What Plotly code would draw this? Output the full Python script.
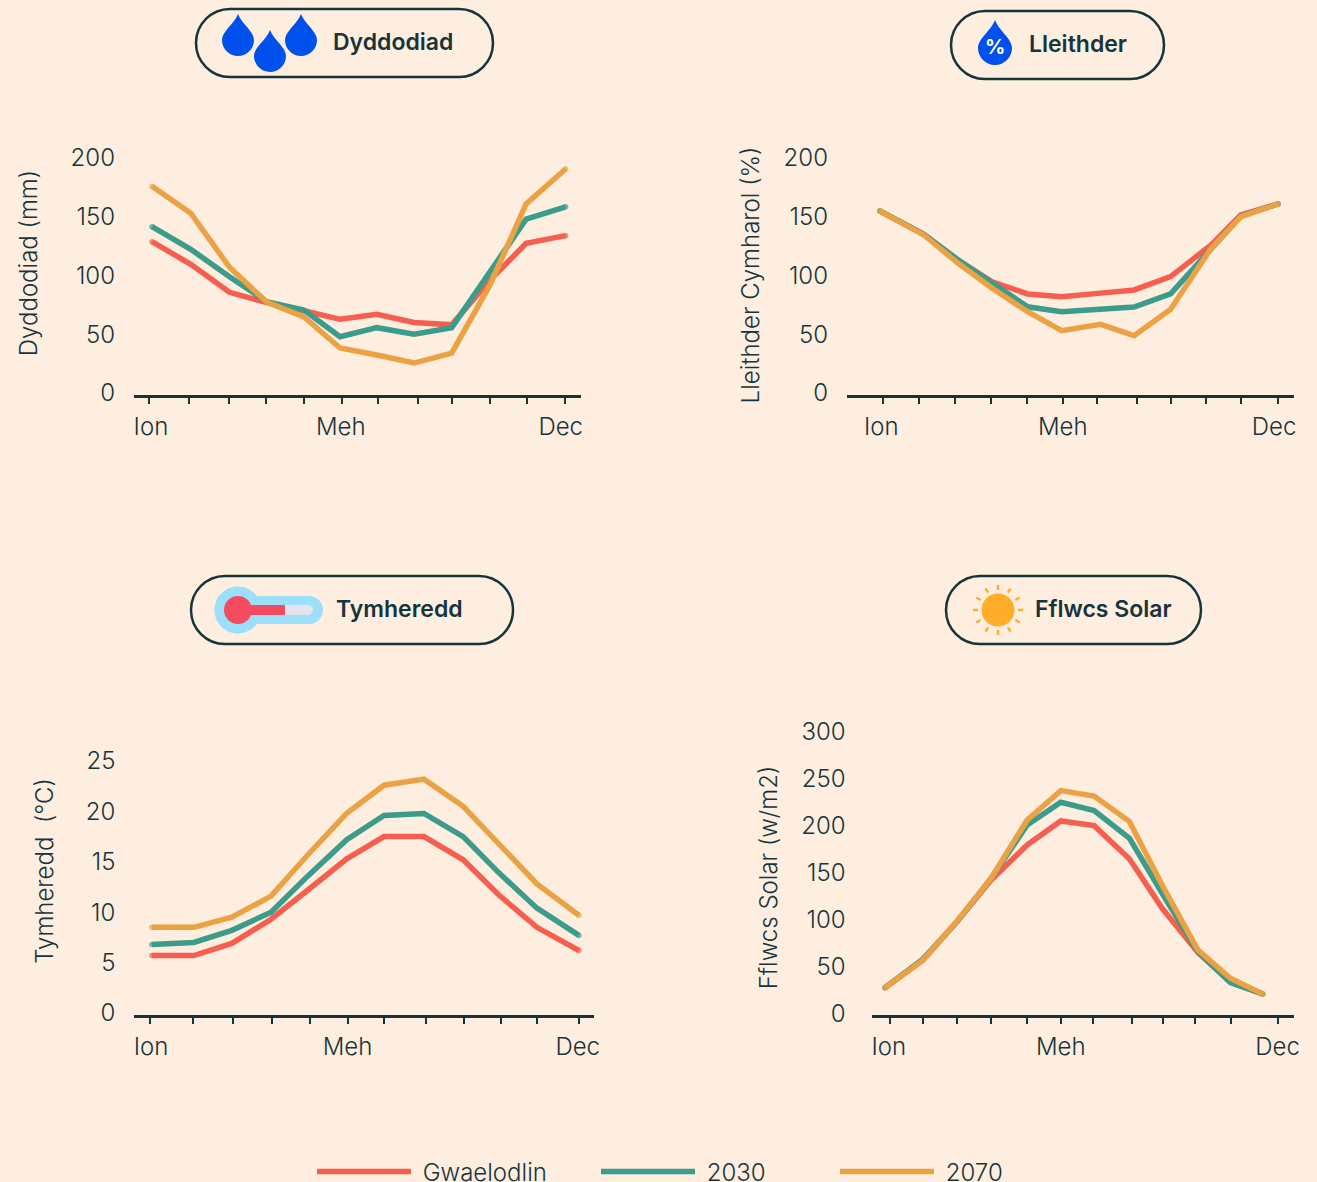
import math
import plotly.graph_objects as go

W, H = 1317, 1182
BG = "#FDEEE0"
INK = "#17343A"
RED, GREEN, ORANGE = "#F65F4F", "#3B9C8C", "#EBA244"
BLUE = "#0050EE"
FONT = "Inter"
TICK_SIZE = 24

SERIES = ["Gwaelodlin", "2030", "2070"]
COLORS = [RED, GREEN, ORANGE]
MONTH_LABELS = ["Ion", "Meh", "Dec"]

# Rainfall (Dyddodiad)
rain_months = [1, 2.03, 3.06, 4.05, 5.04, 6.0, 6.98, 7.97, 8.97, 9.99, 10.95, 12]
rain_ticks = [0.92, 1.98, 3.05, 4.03, 5.04, 6.05, 7.01, 8.07, 8.98, 9.99, 10.97, 11.98]
rain_labels_at = [0.97, 6.02, 11.87]
rain_base = [128.8, 109.5, 85.7, 76.9, 70, 62.7, 67, 60, 58, 96, 127.4, 133.9]
rain_2030 = [141.5, 122.3, 99, 77.7, 70.6, 47.9, 55.6, 50, 55.6, 103, 148, 158.5]
rain_2070 = [176, 153, 107, 77.4, 64.7, 38.3, 32.3, 25.5, 34, 92, 161, 190.6]

# Humidity (Lleithder)
hum_months = [1, 2.21, 3.16, 4.10, 5.08, 6.02, 7.10, 8.02, 9.03, 10.15, 10.97, 12]
hum_ticks = [1.08, 2.08, 3.07, 4.07, 5.06, 6.06, 7.0, 8.1, 9.03, 10.01, 10.97, 12.0]
hum_labels_at = [1.04, 6.05, 11.89]
hum_base = [154.9, 135, 113.2, 94.7, 84.3, 82, 85, 87.7, 99, 126, 151.5, 160.9]
hum_2030 = [154.9, 135, 113.2, 93.4, 73.4, 69.2, 70.9, 73.2, 84.3, 121.7, 150.6, 160.9]
hum_2070 = [154.9, 134.5, 110.4, 89.1, 69.2, 53, 58.4, 48.8, 71.2, 123.1, 150, 160.9]

# Temperature (Tymheredd)
temp_months = [1, 2.08, 3.06, 4.07, 5.02, 6.02, 6.98, 8.01, 9.02, 9.94, 10.92, 12]
temp_ticks = [0.94, 2.06, 3.09, 4.10, 5.08, 6.05, 6.99, 8.05, 9.03, 10.0, 10.93, 12.0]
temp_labels_at = [0.98, 6.04, 11.97]
temp_base = [5.7, 5.7, 6.9, 9.3, 12.2, 15.3, 17.5, 17.5, 15.2, 11.7, 8.5, 6.2]
temp_2030 = [6.8, 7, 8.2, 10, 13.6, 17.2, 19.6, 19.8, 17.5, 13.9, 10.4, 7.7]
temp_2070 = [8.5, 8.5, 9.5, 11.6, 15.7, 19.8, 22.6, 23.2, 20.5, 16.7, 12.8, 9.7]

# Solar flux (Fflwcs Solar)
sol_months = [1, 2.11, 3.10, 4.09, 5.14, 6.12, 7.09, 8.12, 9.07, 10.11, 11.06, 12]
sol_ticks = [1.16, 2.11, 3.10, 4.09, 5.14, 6.13, 7.06, 8.2, 9.10, 10.03, 11.08, 12.44]
sol_labels_at = [1.11, 6.12, 12.43]
sol_base = [27.3, 56.8, 97.7, 142, 179.3, 204.9, 199.9, 164.4, 111.9, 65, 33, 20.6]
sol_2030 = [27.3, 57.9, 97.7, 143.8, 200.6, 224.8, 215.9, 186.4, 127.8, 65.7, 32.7, 20.6]
sol_2070 = [27.3, 56.8, 98.4, 143.8, 206, 237.2, 231.5, 204.2, 136.7, 67.5, 37.3, 20.6]

panels = [
    dict(months=rain_months, ticks=rain_ticks, labels_at=rain_labels_at,
         values=[rain_base, rain_2030, rain_2070], title="Dyddodiad (mm)",
         yticks=[0, 50, 100, 150, 200], left=134, right=581, top=130, bottom=396, axis=395.5,
         xr=[0.52, 12.41], y0=393, py=1.175, labelgap=18, tstand=26),
    dict(months=hum_months, ticks=hum_ticks, labels_at=hum_labels_at,
         values=[hum_base, hum_2030, hum_2070], title="Lleithder Cymharol (%)",
         yticks=[0, 50, 100, 150, 200], left=847, right=1294, top=154, bottom=396, axis=395.5,
         xr=[0.09, 12.44], y0=393, py=1.175, labelgap=18, tstand=17),
    dict(months=temp_months, ticks=temp_ticks, labels_at=temp_labels_at,
         values=[temp_base, temp_2030, temp_2070], title="Tymheredd  (°C)",
         yticks=[0, 5, 10, 15, 20, 25], left=134.4, right=594, top=726, bottom=1016, axis=1015.5,
         xr=[0.55, 12.39], y0=1013, py=10.08, labelgap=18, tstand=25),
    dict(months=sol_months, ticks=sol_ticks, labels_at=sol_labels_at,
         values=[sol_base, sol_2030, sol_2070], title="Fflwcs Solar (w/m2)",
         yticks=[0, 50, 100, 150, 200, 250, 300], left=871.6, right=1294, top=725, bottom=1030, axis=1015.5,
         xr=[0.61, 12.91], y0=1013.3, py=0.9387, labelgap=25, tstand=16),
]


def X(px):
    return px / W


def Y(py):
    return 1 - py / H


def P(px, py):
    return f"{X(px):.5f},{Y(py):.5f}"


def pill_path(x0, y0, x1, y1):
    r = (y1 - y0) / 2
    k = r * 0.5523
    return (f"M{P(x0 + r, y0)} L{P(x1 - r, y0)} "
            f"C{P(x1 - r + k, y0)} {P(x1, y0 + r - k)} {P(x1, y0 + r)} "
            f"C{P(x1, y0 + r + k)} {P(x1 - r + k, y1)} {P(x1 - r, y1)} "
            f"L{P(x0 + r, y1)} "
            f"C{P(x0 + r - k, y1)} {P(x0, y0 + r + k)} {P(x0, y0 + r)} "
            f"C{P(x0, y0 + r - k)} {P(x0 + r - k, y0)} {P(x0 + r, y0)} Z")


def drop_path(cx, top, bottom, r):
    cy = bottom - r
    k = r * 0.5523
    return (f"M{P(cx, top)} "
            f"C{P(cx + r * 0.25, top + (cy - top) * 0.4)} {P(cx + r, cy - r * 0.55)} {P(cx + r, cy)} "
            f"C{P(cx + r, cy + k)} {P(cx + k, bottom)} {P(cx, bottom)} "
            f"C{P(cx - k, bottom)} {P(cx - r, cy + k)} {P(cx - r, cy)} "
            f"C{P(cx - r, cy - r * 0.55)} {P(cx - r * 0.25, top + (cy - top) * 0.4)} {P(cx, top)} Z")


def ellipse_path(cx, cy, r):
    k = r * 0.5523
    return (f"M{P(cx + r, cy)} "
            f"C{P(cx + r, cy + k)} {P(cx + k, cy + r)} {P(cx, cy + r)} "
            f"C{P(cx - k, cy + r)} {P(cx - r, cy + k)} {P(cx - r, cy)} "
            f"C{P(cx - r, cy - k)} {P(cx - k, cy - r)} {P(cx, cy - r)} "
            f"C{P(cx + k, cy - r)} {P(cx + r, cy - k)} {P(cx + r, cy)} Z")


fig = go.Figure()
layout = {}

for i, p in enumerate(panels):
    n = "" if i == 0 else str(i + 1)
    xname, yname = f"xaxis{n}", f"yaxis{n}"
    xref, yref = f"x{n}", f"y{n}"
    for j, (name, color, vals) in enumerate(zip(SERIES, COLORS, p["values"])):
        ends = [5.5] + [0] * (len(vals) - 2) + [5.5]
        fig.add_trace(go.Scatter(
            x=p["months"], y=vals, name="\u00a0" + name, mode="lines+markers",
            line=dict(color=color, width=5.5),
            marker=dict(color=color, size=ends, line=dict(width=0)),
            xaxis=xref, yaxis=yref,
            legend="legend" if j == 0 else f"legend{j + 1}",
            showlegend=(i == 0), hoverinfo="skip",
        ))
    layout[xname] = dict(
        domain=[X(p["left"]), X(p["right"])], range=p["xr"],
        anchor="free", position=Y(p["axis"]), automargin=False,
        showgrid=False, zeroline=False, showline=True, linecolor=INK, linewidth=2.5,
        tickmode="array", tickvals=p["labels_at"], ticktext=MONTH_LABELS,
        ticks="", ticklabelstandoff=9,
        tickfont=dict(family=FONT, size=TICK_SIZE, color=INK, weight=300),
        minor=dict(tickmode="array", tickvals=p["ticks"], ticks="outside",
                   ticklen=7, tickwidth=2, tickcolor=INK, showgrid=False),
    )
    low = (p["y0"] - p["bottom"]) / p["py"]
    high = (p["y0"] - p["top"]) / p["py"]
    layout[yname] = dict(
        domain=[Y(p["bottom"]), Y(p["top"])], range=[low, high], anchor=xref, automargin=False,
        showgrid=False, zeroline=False, showline=False, ticks="",
        tickmode="array", tickvals=p["yticks"], ticklabelstandoff=p["labelgap"],
        tickfont=dict(family=FONT, size=TICK_SIZE, color=INK, weight=300),
        title=dict(text=p["title"], standoff=p["tstand"],
                   font=dict(family=FONT, size=TICK_SIZE, color=INK, weight=300)),
    )

shapes = []
annotations = []


def pill(x0, y0, x1, y1, label, lx):
    shapes.append(dict(type="path", xref="paper", yref="paper", path=pill_path(x0, y0, x1, y1),
                       line=dict(color=INK, width=2.5), fillcolor="rgba(0,0,0,0)"))
    annotations.append(dict(text=label, x=X(lx), y=Y((y0 + y1) / 2 - 1), xref="paper", yref="paper",
                            xanchor="left", yanchor="middle", showarrow=False, borderpad=0,
                            font=dict(family=FONT, size=23, color=INK, weight=600)))


def fill(path, color):
    shapes.append(dict(type="path", xref="paper", yref="paper", path=path,
                       fillcolor=color, line=dict(width=0)))


pill(196, 9, 493, 77, "Dyddodiad", 332)
pill(951, 11, 1164, 79, "Lleithder", 1028)
pill(191, 576, 513, 644, "Tymheredd", 335)
pill(946, 576, 1201, 644, "Fflwcs Solar", 1034)

# Drops
fill(drop_path(238, 14, 56, 16), BLUE)
fill(drop_path(270, 30, 72, 16), BLUE)
fill(drop_path(301, 14, 56, 16), BLUE)
fill(drop_path(995, 20, 65, 17), BLUE)
annotations.append(dict(text="%", x=X(995), y=Y(47), xref="paper", yref="paper", showarrow=False,
                        xanchor="center", yanchor="middle",
                        font=dict(family=FONT, size=20, color="#FFFFFF", weight=700)))

# Thermometer
fill(pill_path(238, 596, 323, 624), "#9BDFFB")
fill(ellipse_path(238, 610, 23.5), "#9BDFFB")
fill(pill_path(270, 605, 313, 615), "#E5E3EC")
shapes.append(dict(type="rect", xref="paper", yref="paper", x0=X(240), x1=X(285), y0=Y(615), y1=Y(605),
                   fillcolor="#F44B5F", line=dict(width=0)))
fill(ellipse_path(238, 610, 14), "#F44B5F")

# Sun
fill(ellipse_path(998, 610, 16.5), "#FFAE2A")
for k in range(12):
    a = math.radians(30 * k)
    shapes.append(dict(type="line", xref="paper", yref="paper",
                       x0=X(998 + 20 * math.cos(a)), x1=X(998 + 25 * math.cos(a)),
                       y0=Y(610 + 20 * math.sin(a)), y1=Y(610 + 25 * math.sin(a)),
                       line=dict(color="#FFAE2A", width=2.5)))

legend_common = dict(orientation="h", xanchor="left", yanchor="middle", y=Y(1172),
                     xref="container", yref="container",
                     itemwidth=94, bgcolor="rgba(0,0,0,0)", borderwidth=0,
                     font=dict(family=FONT, size=TICK_SIZE, color=INK, weight=300))

fig.update_layout(
    width=W, height=H, margin=dict(l=0, r=0, t=0, b=0, autoexpand=False), autosize=False,
    paper_bgcolor=BG, plot_bgcolor=BG, showlegend=True,
    shapes=shapes, annotations=annotations,
    legend=dict(x=X(312), **legend_common),
    legend2=dict(x=X(596), **legend_common),
    legend3=dict(x=X(835), **legend_common),
    **layout,
)
fig.write_html("out.html", config=dict(displayModeBar=False),
               post_script="document.body.style.margin='0';")
